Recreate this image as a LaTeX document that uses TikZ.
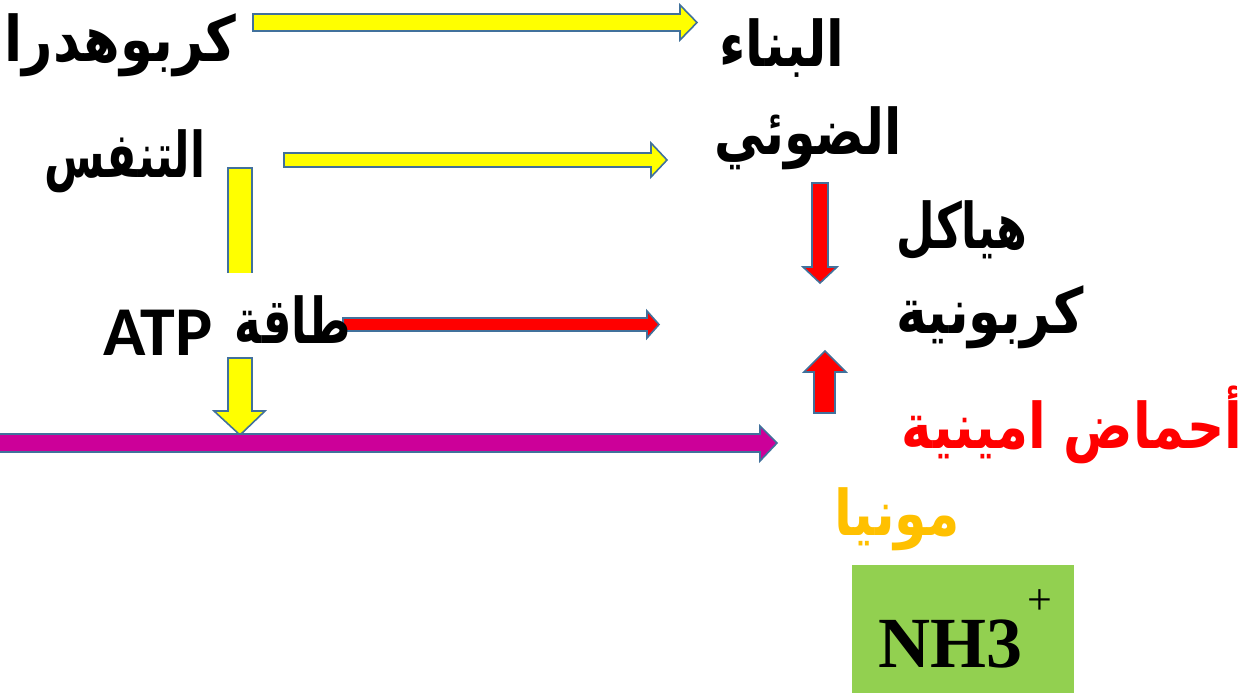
\documentclass[tikz,border=0pt]{standalone}
\usepackage{graphicx}
\usepackage{fontspec}
\setmainfont{Liberation Serif}
\newfontfamily\arabicfont[Script=Arabic]{DejaVu Sans}
\newfontfamily\atpfont{Carlito}
\TeXXeTstate=1
\definecolor{edgeblue}{HTML}{41719C}
\definecolor{arrowyellow}{HTML}{FFFF00}
\definecolor{arrowred}{HTML}{FF0000}
\definecolor{arrowmagenta}{HTML}{CC0099}
\definecolor{goldtext}{HTML}{FFC000}
\definecolor{boxgreen}{HTML}{92D050}
\tikzset{
  blockarrow/.style={draw=edgeblue, line width=0.8pt, line join=miter},
  artext/.style={inner sep=0pt, anchor=base, font=\arabicfont\bfseries\fontsize{30}{36}\selectfont},
}
\begin{document}
\begin{tikzpicture}[x=0.5pt, y=-0.5pt]
\useasboundingbox (0,0) rectangle (1245,695);
\clip (0,0) rectangle (1245,695);

% yellow arrow top
\path[blockarrow, fill=arrowyellow] (253,14) -- (680,14) -- (680,5) -- (697,22.5) -- (680,40) -- (680,31) -- (253,31) -- cycle;
% yellow arrow 2
\path[blockarrow, fill=arrowyellow] (284,153) -- (651,153) -- (651,143) -- (667,160) -- (651,177) -- (651,167) -- (284,167) -- cycle;
% yellow vertical bar (cut at bottom)
\fill[arrowyellow] (228,168) rectangle (252,273);
\draw[edgeblue, line width=0.8pt] (228,273) -- (228,168) -- (252,168) -- (252,273);
% yellow down arrow
\path[blockarrow, fill=arrowyellow] (228,358) -- (252,358) -- (252,411) -- (265,411) -- (240,435) -- (214,411) -- (228,411) -- cycle;
% red right arrow
\path[blockarrow, fill=arrowred] (343,318) -- (647,318) -- (647,311) -- (659,324.5) -- (647,338) -- (647,331) -- (343,331) -- cycle;
% magenta arrow
\path[blockarrow, fill=arrowmagenta] (-10,434) -- (760,434) -- (760,426) -- (777,443) -- (760,461) -- (760,452) -- (-10,452) -- cycle;
% red down arrow
\path[blockarrow, fill=arrowred] (812,183) -- (828,183) -- (828,267) -- (837,267) -- (820,283) -- (803,267) -- (812,267) -- cycle;
% red up arrow
\path[blockarrow, fill=arrowred] (814,413) -- (835,413) -- (835,372) -- (846,372) -- (825,351) -- (804,372) -- (814,372) -- cycle;

% texts
\node[artext, anchor=base east] (carb) at (237,62) {\scalebox{0.88}[1.05]{\beginR كربوهدرات\endR}};
\node[artext] (resp) at (125,177) {\scalebox{0.73}[1.05]{\beginR التنفس\endR}};
\node[artext] (build) at (782,67) {\scalebox{0.86}[1.05]{\beginR البناء\endR}};
\node[artext] (light) at (808,155) {\scalebox{0.84}[1.05]{\beginR الضوئي\endR}};
\node[artext] (skel1) at (962,248) {\scalebox{0.74}[1.05]{\beginR هياكل\endR}};
\node[artext] (skel2) at (990,333) {\scalebox{0.87}[1.05]{\beginR كربونية\endR}};
\node[artext, text=arrowred] (amino) at (1072,448) {\scalebox{0.86}[1.05]{\beginR أحماض امينية\endR}};
\node[artext, text=goldtext] (ammon) at (897,535) {\scalebox{0.87}[1.05]{\beginR مونيا\endR}};
\node[artext] (energy) at (293,343) {\scalebox{0.75}[1.05]{\beginR طاقة\endR}};
\node[inner sep=0pt, anchor=base, font=\atpfont\bfseries\fontsize{35}{40}\selectfont] (atp) at (158,355) {ATP};

% NH3 box
\fill[boxgreen] (852,565) rectangle (1074,693);
\node[inner sep=0pt, anchor=base west, font=\bfseries\fontsize{36}{40}\selectfont] (nh3) at (878,667) {NH3};
\node[inner sep=0pt, font=\fontsize{22}{24}\selectfont] (plus) at (1040,602) {+};
\end{tikzpicture}
\end{document}
